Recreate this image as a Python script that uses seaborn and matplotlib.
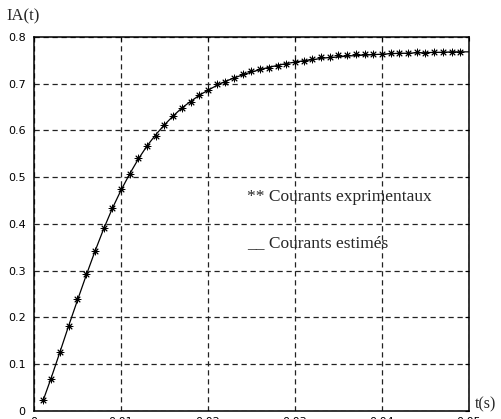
import numpy as np
import pandas as pd
import matplotlib
matplotlib.use("Agg")
import matplotlib.pyplot as plt
import seaborn as sns

# Sampling instants (s) of the measured current
t_meas = [0.001 * k for k in range(1, 50)]
# Measured current IA(t)
ia_meas = [0.023, 0.068, 0.126, 0.181, 0.239, 0.292, 0.343, 0.392, 0.435, 0.475,
           0.507, 0.541, 0.567, 0.588, 0.611, 0.631, 0.647, 0.661, 0.675, 0.687,
           0.699, 0.704, 0.711, 0.720, 0.727, 0.731, 0.734, 0.738, 0.743, 0.747,
           0.748, 0.752, 0.758, 0.758, 0.761, 0.761, 0.763, 0.763, 0.764, 0.764,
           0.765, 0.766, 0.765, 0.767, 0.766, 0.767, 0.768, 0.767, 0.768]

# Estimated current from the identified model
t_est = [0.001 * k for k in range(1, 51)]
ia_est = [0.020, 0.072, 0.127, 0.183, 0.237, 0.290, 0.341, 0.389, 0.433, 0.472,
          0.507, 0.539, 0.567, 0.591, 0.612, 0.631, 0.648, 0.662, 0.675, 0.686,
          0.696, 0.705, 0.712, 0.719, 0.725, 0.730, 0.735, 0.739, 0.743, 0.746,
          0.749, 0.751, 0.754, 0.756, 0.757, 0.759, 0.760, 0.761, 0.762, 0.763,
          0.764, 0.765, 0.765, 0.766, 0.766, 0.767, 0.767, 0.768, 0.768, 0.768]

x_ticks = [0, 0.01, 0.02, 0.03, 0.04, 0.05]
x_tick_labels = ["0", "0.01", "0.02", "0.03", "0.04", "0.05"]
y_ticks = [0, 0.1, 0.2, 0.3, 0.4, 0.5, 0.6, 0.7, 0.8]
y_tick_labels = ["0", "0.1", "0.2", "0.3", "0.4", "0.5", "0.6", "0.7", "0.8"]

sns.set_style("white")
plt.rcParams["font.family"] = ["DejaVu Sans"]

meas = pd.DataFrame({"t": t_meas, "ia": ia_meas})
est = pd.DataFrame({"t": t_est, "ia": ia_est})

fig = plt.figure(figsize=(5.02, 4.19), dpi=100)
ax = fig.add_axes([0.0677, 0.019, 0.8665, 0.893])

sns.lineplot(data=est, x="t", y="ia", ax=ax, color="black", linewidth=0.9,
             linestyle="-", zorder=3)
sns.scatterplot(data=meas, x="t", y="ia", ax=ax, color="black",
                marker=(8, 2, 0), s=24, linewidth=0.7, zorder=4)

ax.set_xlim(0, 0.05)
ax.set_ylim(0, 0.8)
ax.set_xticks(x_ticks)
ax.set_xticklabels(x_tick_labels)
ax.set_yticks(y_ticks)
ax.set_yticklabels(y_tick_labels)
ax.set_xlabel("")
ax.set_ylabel("")

ax.grid(True, color="#222222", linestyle=(0, (4.2, 3.0)), linewidth=0.9)
for s in ax.spines.values():
    s.set_visible(True)
    s.set_color("black")
    s.set_linewidth(1.1)

ax.tick_params(axis="both", direction="in", length=3, width=0.8,
               top=True, right=True, labelsize=8, colors="black")
ax.tick_params(axis="y", pad=6)
ax.tick_params(axis="x", pad=4)

serif = ["Liberation Serif", "DejaVu Serif"]
fig.text(0.012, 0.98, "IA(t)", family=serif, fontsize=12, va="top", ha="left")
fig.text(0.946, 0.036, "t(s)", family=serif, fontsize=11.5, va="center", ha="left")
fig.text(0.492, 0.530, "** Courants exprimentaux", family=serif, fontsize=12.5,
         va="center", ha="left")
fig.text(0.492, 0.420, "__ Courants estimés", family=serif, fontsize=12.5,
         va="center", ha="left")

fig.savefig("out.png", dpi=100, facecolor="white")
